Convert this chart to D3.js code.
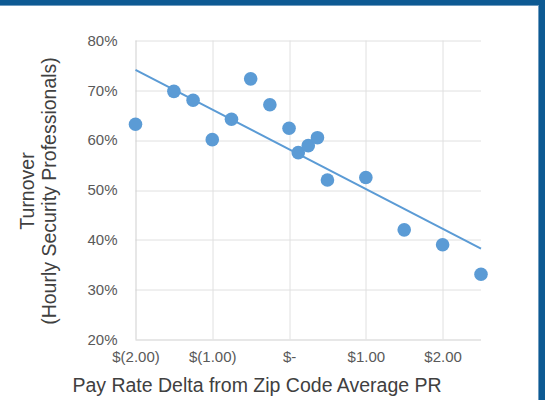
<!DOCTYPE html>
<meta charset="utf-8">
<style>
body { margin: 0; background: #fff; }
.grid line { stroke: #e0e0e0; stroke-width: 1px; }
.axis text { font-family: "Liberation Sans", Arial, sans-serif; font-size: 15px; fill: #595959; }
.axis .domain { display: none; }
.axis line { display: none; }
.dot { fill: #5b9bd5; }
.trend { fill: none; stroke: #5b9bd5; stroke-width: 2px; }
.title { font-family: "Liberation Sans", Arial, sans-serif; font-size: 19.5px; fill: #404040; }
</style>
<body>
<svg width="545" height="400" id="chart"></svg>
<script src="https://d3js.org/d3.v7.min.js"></script>
<script>
// pay rate delta ($) and turnover (%)
var payDelta = [-2, -1.5, -1.25, -1, -0.75, -0.5, -0.25, 0, 0.12, 0.25, 0.37, 0.5, 1, 1.5, 2, 2.5];
var turnover = [63.2, 69.8, 68.0, 60.1, 64.2, 72.3, 67.1, 62.4, 57.5, 58.9, 60.5, 52.0, 52.5, 42.0, 39.0, 33.1];
var xTicks = [-2, -1, 0, 1, 2];
var xTickLabels = ["$(2.00)", "$(1.00)", "$-", "$1.00", "$2.00"];
var yTicks = [20, 30, 40, 50, 60, 70, 80];

var svg = d3.select("#chart");
var margin = {left: 135.5, right: 64, top: 40.5, bottom: 60.5};
var width = 545 - margin.left - margin.right,
    height = 400 - margin.top - margin.bottom;

var x = d3.scaleLinear().domain([-2, 2.5]).range([0, width]);
var y = d3.scaleLinear().domain([20, 80]).range([height, 0]);

// frame
svg.append("rect").attr("x", 0).attr("y", 0).attr("width", 545).attr("height", 5).attr("fill", "#0d5a93");
svg.append("rect").attr("x", 0).attr("y", 5).attr("width", 545).attr("height", 1).attr("fill", "#6f9cc0");
svg.append("rect").attr("x", 539).attr("y", 0).attr("width", 6).attr("height", 400).attr("fill", "#0d5a93");
svg.append("rect").attr("x", 538).attr("y", 5).attr("width", 1).attr("height", 395).attr("fill", "#6f9cc0");

var g = svg.append("g").attr("transform", "translate(" + margin.left + "," + margin.top + ")");

var grid = g.append("g").attr("class", "grid");
grid.selectAll(".h").data(yTicks).enter().append("line")
    .attr("x1", 0).attr("x2", width)
    .attr("y1", function(d) { return Math.round(y(d)) + 0.5; })
    .attr("y2", function(d) { return Math.round(y(d)) + 0.5; })
    .style("stroke", function(d) { return d === 20 ? "#cfcfcf" : null; });
grid.selectAll(".v").data(xTicks).enter().append("line")
    .attr("y1", 0).attr("y2", height)
    .attr("x1", function(d) { return Math.round(x(d)) + 0.5; })
    .attr("x2", function(d) { return Math.round(x(d)) + 0.5; })
    .style("stroke", function(d) { return d === -2 ? "#cfcfcf" : null; });

g.append("g").attr("class", "axis")
    .call(d3.axisLeft(y).tickValues(yTicks).tickSize(0).tickPadding(18).tickFormat(function(d) { return d + "%"; }));

g.append("g").attr("class", "axis")
    .attr("transform", "translate(0," + height + ")")
    .call(d3.axisBottom(x).tickValues(xTicks).tickSize(0).tickPadding(12)
      .tickFormat(function(d, i) { return xTickLabels[i]; }));

// linear trendline (least squares)
var n = payDelta.length;
var mx = d3.mean(payDelta), my = d3.mean(turnover);
var sxy = 0, sxx = 0;
for (var i = 0; i < n; i++) {
  sxy += (payDelta[i] - mx) * (turnover[i] - my);
  sxx += (payDelta[i] - mx) * (payDelta[i] - mx);
}
var slope = sxy / sxx, icpt = my - slope * mx;
var ends = x.domain().map(function(d) { return {x: d, y: icpt + slope * d}; });
g.append("path").attr("class", "trend")
    .attr("d", d3.line().x(function(d) { return x(d.x); }).y(function(d) { return y(d.y); })(ends));

g.selectAll(".dot").data(payDelta).enter().append("circle")
    .attr("class", "dot")
    .attr("r", 6.8)
    .attr("cx", function(d) { return x(d); })
    .attr("cy", function(d, i) { return y(turnover[i]); });

svg.append("text").attr("class", "title")
    .attr("x", 257).attr("y", 392)
    .attr("text-anchor", "middle")
    .text("Pay Rate Delta from Zip Code Average PR");

var yt = svg.append("text").attr("class", "title")
    .attr("transform", "translate(34,191) rotate(-90)")
    .attr("text-anchor", "middle");
yt.append("tspan").attr("x", 0).attr("dy", 0).text("Turnover");
yt.append("tspan").attr("x", 0).attr("dy", "1.15em").text("(Hourly Security Professionals)");
</script>
</body>
